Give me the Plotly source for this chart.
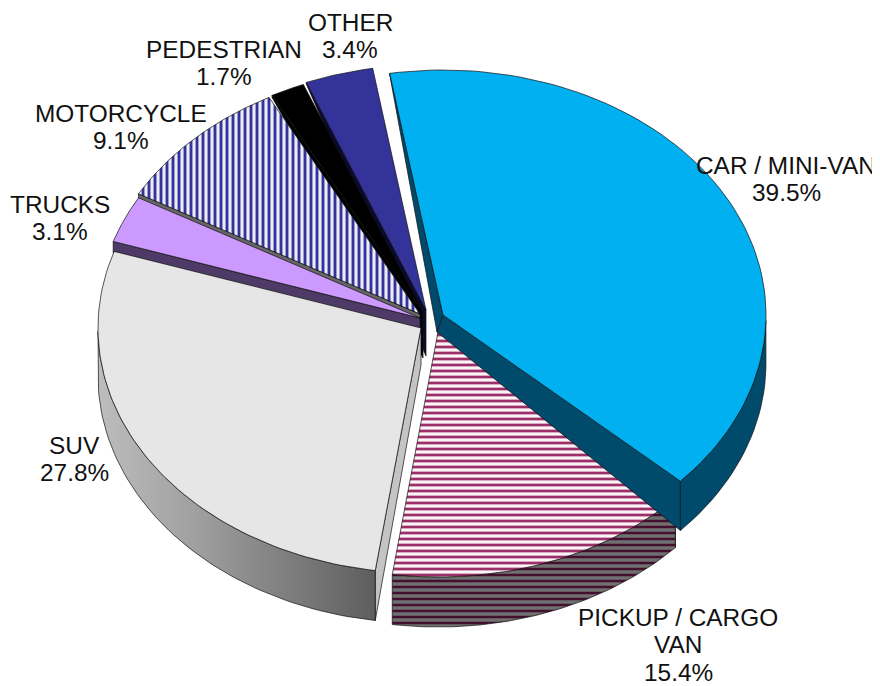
import numpy as np
import plotly.graph_objects as go

# chart values
labels = [["CAR / MINI-VAN"], ["PICKUP / CARGO", "VAN"], ["SUV"], ["TRUCKS"], ["MOTORCYCLE"], ["PEDESTRIAN"], ["OTHER"]]
values = [39.5, 15.4, 27.8, 3.1, 9.1, 1.7, 3.4]

# fake 3d pie geometry, plotly's own pie can't tilt so wedges are drawn as filled scatter
center = (430, 320)
rx, ry = 323, 245
start_angle = -9.5
explode = [(13, -5), (8, 12), (-9, 8), (-10, -2), (-10, -6), (-7, -8), (-4, -10)]
apex_drop = [(-6, 17), (0, 20), (0, 37), (0, 42), (0, 42), (0, 46), (0, 46)]

top_colors = ["#00b0f0", "#ffffff", "#e6e6e6", "#cc99ff", "#ffffff", "#000000", "#333399"]
side_colors = ["#004a6c", "#5a5a5a", "#c4c4c4", "#4d3a66", "#666666", "#000000", "#0a0a30"]
wall_colors = ["#004a6c", "#6a6a6a", "#808080", "#4d3a66", "#666666", "#000000", "#1a1a4d"]

# back to front
draw_order = [6, 5, 4, 3, 2, 1, 0]

# first line centre of each label
label_pos = [(786, 165), (678, 617), (74, 445), (60, 204), (121, 113), (224, 49), (350, 22)]
line_gap = 27.5

# page has 8px body margin, so the plot is 8px smaller and the axes start at 8
page_margin = 8


def rim_depth(theta):
    return np.interp(np.cos(theta), [-1, 0, 0.3, 0.5, 1], [50, 48, 12, 6, 1])


def rim_point(theta, apex):
    return apex[0] + rx * np.sin(theta), apex[1] - ry * np.cos(theta)


def add_poly(fig, x, y, color, **kw):
    fig.add_trace(
        go.Scatter(
            x=x, y=y, mode="lines", fill="toself", fillcolor=color,
            line=dict(color="#101010", width=0.7), hoverinfo="skip", **kw,
        )
    )


def add_slice(fig, i, a0, a1):
    apex = (center[0] + explode[i][0], center[1] + explode[i][1])
    drop_x, drop_y = apex_drop[i]
    theta = np.radians(np.linspace(a0, a1, 80))
    x, y = rim_point(theta, apex)
    name = labels[i][0]

    wall_kw = {}
    top_kw = {}
    if name.startswith("PICKUP"):
        wall_kw["fillpattern"] = dict(shape="-", fgcolor="#45102f", bgcolor="#707070", size=6, solidity=0.42, fgopacity=1, fillmode="replace")
        top_kw["fillpattern"] = dict(shape="-", fgcolor="#9c2f68", bgcolor="#fbf4f8", size=6, solidity=0.46, fgopacity=1, fillmode="replace")
    if name == "MOTORCYCLE":
        top_kw["fillpattern"] = dict(shape="|", fgcolor="#333399", bgcolor="#ecECf8", size=6, solidity=0.48, fgopacity=1, fillmode="replace")
    if name == "SUV":
        wall_kw["fillgradient"] = dict(
            type="horizontal",
            colorscale=[[0, "#bdbdbd"], [0.35, "#a0a0a0"], [1, "#5e5e5e"]],
        )

    # radial side faces, the far edge only shows on the right hand side
    faces = [a0]
    if np.sin(np.radians(a1)) > 0:
        faces.append(a1)
    for a in faces:
        t = np.radians(a)
        px, py = rim_point(t, apex)
        d = rim_depth(t)
        add_poly(
            fig,
            [apex[0], px, px, apex[0] + drop_x, apex[0]],
            [apex[1], py, py + d, apex[1] + drop_y, apex[1]],
            side_colors[i],
        )

    # outer wall, only the part facing the viewer
    front = np.cos(theta) <= 0
    if front.any():
        wx, wy, wd = x[front], y[front], rim_depth(theta[front])
        add_poly(
            fig,
            np.r_[wx, wx[::-1], wx[0]],
            np.r_[wy, (wy + wd)[::-1], wy[0]],
            wall_colors[i],
            **wall_kw,
        )

    # top surface
    add_poly(fig, np.r_[apex[0], x, apex[0]], np.r_[apex[1], y, apex[1]], top_colors[i], **top_kw)


fig = go.Figure()

ends = start_angle + np.cumsum(values) * 3.6
starts = np.r_[start_angle, ends[:-1]]
for i in draw_order:
    add_slice(fig, i, starts[i], ends[i])

for lines, val, pos in zip(labels, values, label_pos):
    for n, text in enumerate(lines + [f"{val}%"]):
        fig.add_annotation(
            x=pos[0], y=pos[1] + n * line_gap, text=text, showarrow=False,
            font=dict(family="Liberation Sans", size=24.4, color="#111111"),
        )

fig.update_xaxes(range=[page_margin, 880], visible=False, fixedrange=True)
fig.update_yaxes(range=[686, page_margin], visible=False, fixedrange=True)
fig.update_layout(
    width=880 - page_margin, height=686 - page_margin, margin=dict(l=0, r=0, t=0, b=0),
    showlegend=False, plot_bgcolor="white", paper_bgcolor="white",
)

fig.write_html("out.html")
